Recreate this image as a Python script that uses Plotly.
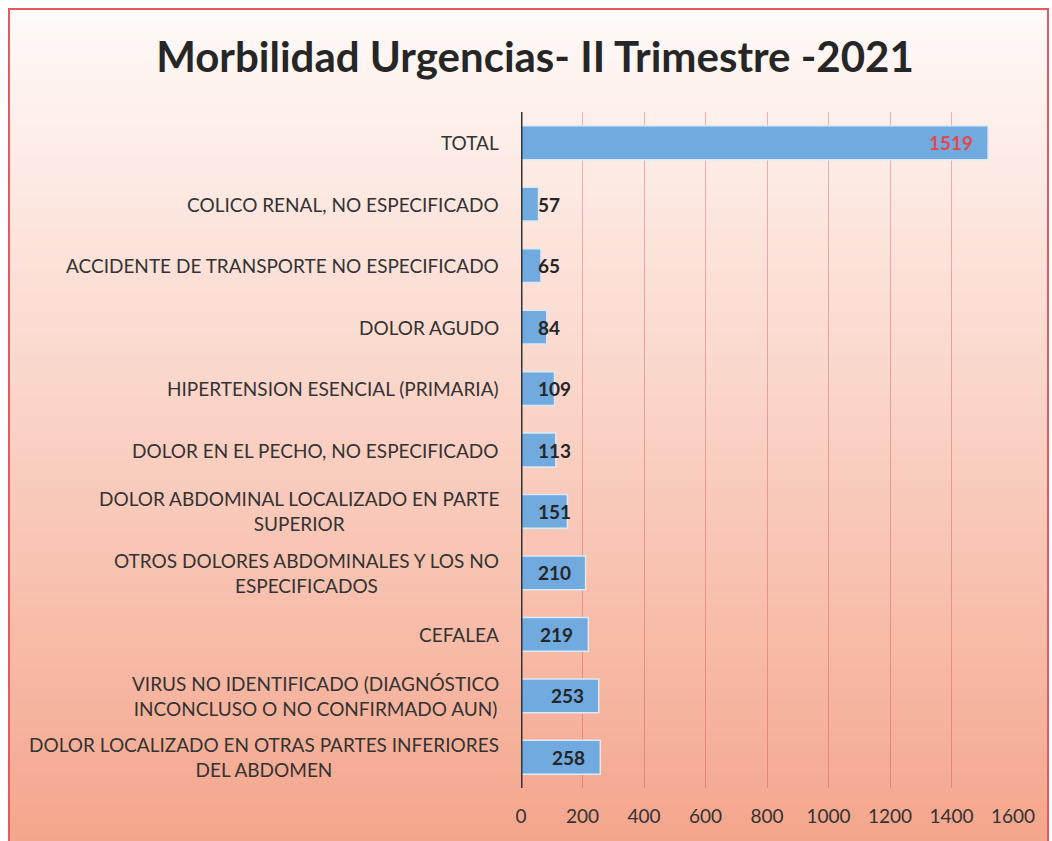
import plotly.graph_objects as go

categories = [
    "TOTAL",
    "COLICO RENAL, NO ESPECIFICADO",
    "ACCIDENTE DE TRANSPORTE NO ESPECIFICADO",
    "DOLOR AGUDO",
    "HIPERTENSION ESENCIAL (PRIMARIA)",
    "DOLOR EN EL PECHO, NO ESPECIFICADO",
    "DOLOR ABDOMINAL LOCALIZADO EN PARTE<br>SUPERIOR",
    "OTROS DOLORES ABDOMINALES Y LOS NO<br>ESPECIFICADOS",
    "CEFALEA",
    "VIRUS NO IDENTIFICADO (DIAGNÓSTICO<br>INCONCLUSO O NO CONFIRMADO AUN)",
    "DOLOR LOCALIZADO EN OTRAS PARTES INFERIORES<br>DEL ABDOMEN",
]
values = [1519, 57, 65, 84, 109, 113, 151, 210, 219, 253, 258]
tick_values = [0, 200, 400, 600, 800, 1000, 1200, 1400, 1600]

W, H = 1052, 841
ML, MR, MT, MB = 521, 39, 112, 53
PW, PH = W - ML - MR, H - MT - MB
FONT = "Lato"

def px_to_paper_x(px):
    return (px - ML) / PW

def px_to_paper_y(py):
    return 1 - (py - MT) / PH

fig = go.Figure()
fig.add_trace(go.Bar(
    x=values, y=categories, orientation="h",
    marker=dict(color="#70aadf", line=dict(color="#dce9f6", width=1.5)),
    hoverinfo="x+y",
))

annotations = []
for c in categories:
    annotations.append(dict(
        x=0, xref="paper", xshift=-20, y=c, yref="y",
        text=c, showarrow=False, xanchor="right", yanchor="middle", align="center",
        font=dict(family=FONT, size=19, color="#333333"),
    ))
for c, v in zip(categories, values):
    color = "#e8474a" if c == "TOTAL" else "#262626"
    if v > 205:
        annotations.append(dict(x=v, y=c, xref="x", yref="y", xanchor="right", xshift=-13,
                                text=f"<b>{v}</b>", showarrow=False,
                                font=dict(family=FONT, size=19, color=color, weight="bold")))
    else:
        annotations.append(dict(x=0, y=c, xref="x", yref="y", xanchor="left", xshift=15,
                                text=f"<b>{v}</b>", showarrow=False,
                                font=dict(family=FONT, size=19, color=color, weight="bold")))

shapes = []
stops = [(0.0, (254, 250, 248)), (0.45, (251, 214, 202)), (1.0, (244, 165, 139))]
def col_at(t):
    for (t0, c0), (t1, c1) in zip(stops[:-1], stops[1:]):
        if t0 <= t <= t1:
            f = (t - t0) / (t1 - t0)
            return tuple(round(a + (b - a) * f) for a, b in zip(c0, c1))
    return stops[-1][1]
N = 80
top_px, bot_px = 9, H + 5
left_px, right_px = 9, W - 4
for i in range(N):
    y0 = top_px + (bot_px - top_px) * i / N
    y1 = top_px + (bot_px - top_px) * (i + 1) / N + 1
    r, g, b = col_at((i + 0.5) / N)
    shapes.append(dict(type="rect", xref="paper", yref="paper", layer="below",
                       x0=px_to_paper_x(left_px), x1=px_to_paper_x(right_px),
                       y0=px_to_paper_y(y1), y1=px_to_paper_y(y0),
                       fillcolor=f"rgb({r},{g},{b})", line=dict(width=0)))
shapes.append(dict(type="rect", xref="paper", yref="paper", layer="below",
                   x0=px_to_paper_x(left_px), x1=px_to_paper_x(right_px),
                   y0=px_to_paper_y(bot_px), y1=px_to_paper_y(top_px),
                   fillcolor="rgba(0,0,0,0)", line=dict(color="#e8585e", width=2)))

fig.update_layout(
    width=W, height=H,
    margin=dict(l=ML, r=MR, t=MT, b=MB, pad=0),
    paper_bgcolor="white", plot_bgcolor="rgba(0,0,0,0)",
    showlegend=False, bargap=0.45,
    title=dict(text="<b>Morbilidad Urgencias- II Trimestre -2021</b>",
               x=535 / W, xanchor="center", y=1 - 57 / H, yanchor="middle",
               yref="container", font=dict(family=FONT, size=42, color="#262626")),
    xaxis=dict(range=[0, 1600], tickvals=tick_values, showgrid=True,
               gridcolor="rgba(200,70,80,0.38)", gridwidth=1, zeroline=False, showline=False,
               ticks="outside", ticklen=11, tickcolor="rgba(0,0,0,0)",
               tickfont=dict(family=FONT, size=19, color="#333333"), fixedrange=True),
    yaxis=dict(autorange="reversed", showticklabels=False, showgrid=False,
               zeroline=False, showline=False, ticks="", fixedrange=True),
    annotations=annotations, shapes=shapes,
)
fig.add_shape(type="line", xref="x", yref="paper", x0=0, x1=0, y0=0, y1=1,
              line=dict(color="#333333", width=3), layer="above")

fig.write_html("out.html", config={"displayModeBar": False},
               post_script="document.body.style.margin='0';document.body.style.overflow='hidden';")
